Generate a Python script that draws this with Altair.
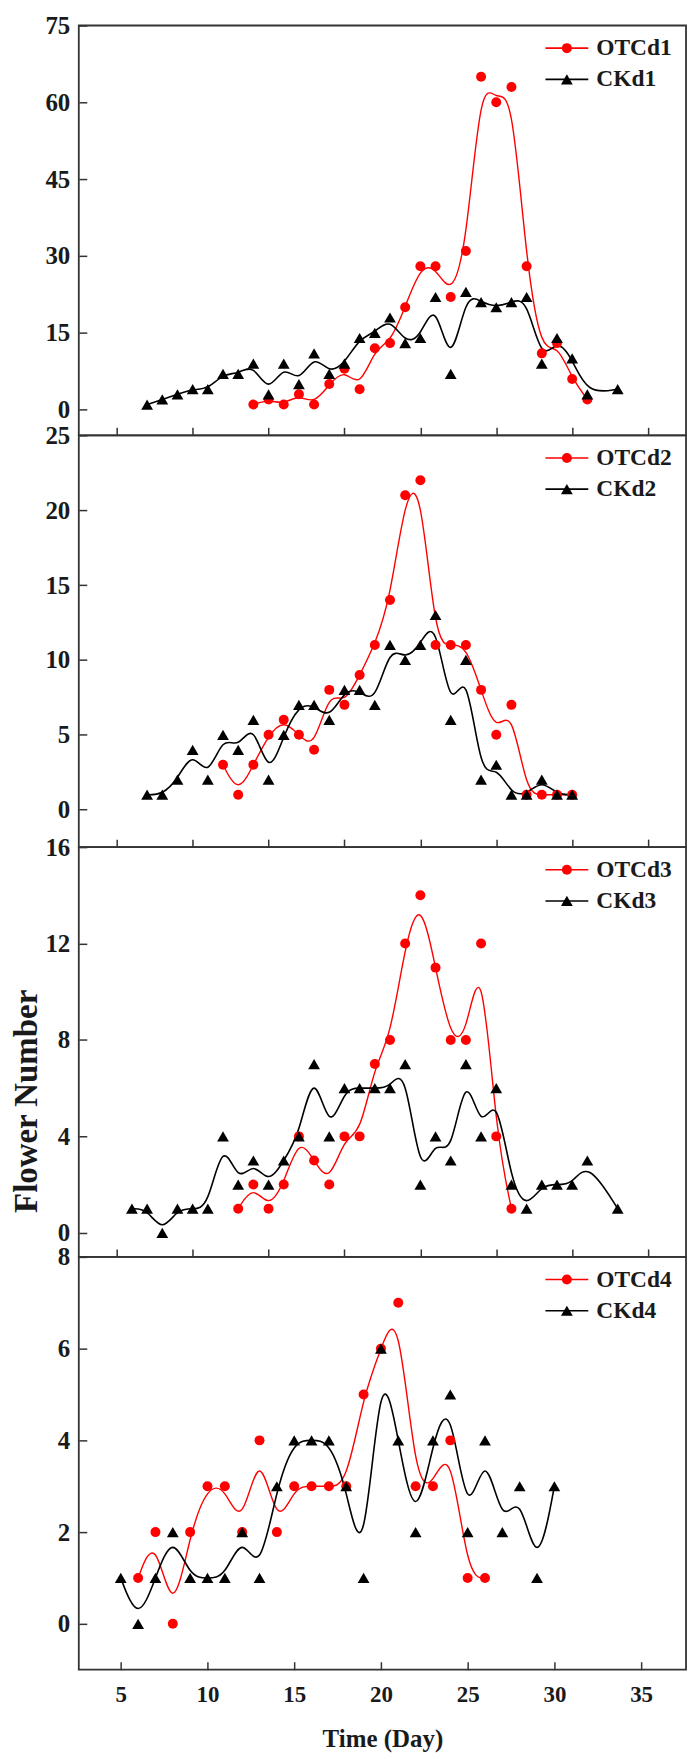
import altair as alt
import pandas as pd

FONT = "Liberation Serif"
RED = "#ff0000"
BLACK = "#000000"
INK = "#1a1a1a"

# ---------------- data ----------------
# Panel 1 (upper-panel day scale)
otc1_days = [14, 15, 16, 17, 18, 19, 20, 21, 22, 23, 24, 25, 26, 27, 28, 29, 30, 31, 32, 33, 34, 35, 36]
otc1_vals = [1, 2, 1, 3, 1, 5, 8, 4, 12, 13, 20, 28, 28, 22, 31, 65, 60, 63, 28, 11, 13, 6, 2]
ck1_days = [7, 8, 9, 10, 11, 12, 13, 14, 15, 16, 17, 18, 19, 20, 21, 22, 23, 24, 25, 26, 27, 28, 29, 30, 31, 32, 33, 34, 35, 36, 38]
ck1_vals = [1, 2, 3, 4, 4, 7, 7, 9, 3, 9, 5, 11, 7, 9, 14, 15, 18, 13, 14, 22, 7, 23, 21, 20, 21, 22, 9, 14, 10, 3, 4]

# Panel 2
otc2_days = [12, 13, 14, 15, 16, 17, 18, 19, 20, 21, 22, 23, 24, 25, 26, 27, 28, 29, 30, 31, 32, 33, 34, 35]
otc2_vals = [3, 1, 3, 5, 6, 5, 4, 8, 7, 9, 11, 14, 21, 22, 11, 11, 11, 8, 5, 7, 1, 1, 1, 1]
ck2_days = [7, 8, 9, 10, 11, 12, 13, 14, 15, 16, 17, 18, 19, 20, 21, 22, 23, 24, 25, 26, 27, 28, 29, 30, 31, 32, 33, 34, 35]
ck2_vals = [1, 1, 2, 4, 2, 5, 4, 6, 2, 5, 7, 7, 6, 8, 8, 7, 11, 10, 11, 13, 6, 10, 2, 3, 1, 1, 2, 1, 1]

# Panel 3
otc3_days = [13, 14, 15, 16, 17, 18, 19, 20, 21, 22, 23, 24, 25, 26, 27, 28, 29, 30, 31]
otc3_vals = [1, 2, 1, 2, 4, 3, 2, 4, 4, 7, 8, 12, 14, 11, 8, 8, 12, 4, 1]
ck3_days = [6, 7, 8, 9, 10, 11, 12, 13, 14, 15, 16, 17, 18, 19, 20, 21, 22, 23, 24, 25, 26, 27, 28, 29, 30, 31, 32, 33, 34, 35, 36, 38]
ck3_vals = [1, 1, 0, 1, 1, 1, 4, 2, 3, 2, 3, 4, 7, 4, 6, 6, 6, 6, 7, 2, 4, 3, 7, 4, 6, 2, 1, 2, 2, 2, 3, 1]

# Panel 4 (bottom, labelled day scale)
otc4_days = [6, 7, 8, 9, 10, 11, 12, 13, 14, 15, 16, 17, 18, 19, 20, 21, 22, 23, 24, 25, 26]
otc4_vals = [1, 2, 0, 2, 3, 3, 2, 4, 2, 3, 3, 3, 3, 5, 6, 7, 3, 3, 4, 1, 1]
ck4_days = [5, 6, 7, 8, 9, 10, 11, 12, 13, 14, 15, 16, 17, 18, 19, 20, 21, 22, 23, 24, 25, 26, 27, 28, 29, 30]
ck4_vals = [1, 0, 1, 2, 1, 1, 1, 2, 1, 3, 4, 4, 4, 3, 1, 6, 4, 2, 4, 5, 2, 4, 2, 3, 1, 3]

upper_x_ticks = [5, 10, 15, 20, 25, 30, 35, 40]
bottom_x_ticks = [5, 10, 15, 20, 25, 30, 35]
y1_ticks = [0, 15, 30, 45, 60, 75]
y2_ticks = [0, 5, 10, 15, 20, 25]
y3_ticks = [0, 4, 8, 12, 16]
y4_ticks = [0, 2, 4, 6, 8]

W = 609
CIRCLE_SIZE = 100
TRI_SIZE = 140


def panel(od, ov, cd, cv, oname, cname, xdom, xticks, ydom, yticks, height,
          bottom=False, ytitle=False):
    otc = pd.DataFrame({"day": od, "value": ov})
    ck = pd.DataFrame({"day": cd, "value": cv})
    one = pd.DataFrame({"k": [0]})

    xkw = dict(values=xticks, labels=bottom, ticks=True, tickSize=8, offset=-8,
               domain=False, grid=False, tickColor="#333", tickWidth=1.5,
               labelFlush=False)
    if bottom:
        xkw.update(labelPadding=14, labelFontSize=23, labelFont=FONT,
                   labelFontWeight="bold", labelColor=INK,
                   title="Time (Day)", titleFont=FONT, titleFontSize=25,
                   titleFontWeight="bold", titleColor=INK, titlePadding=20)
    else:
        xkw.update(title="")
    x = alt.X("day:Q", scale=alt.Scale(domain=xdom, nice=False, zero=False),
              axis=alt.Axis(**xkw))
    y = alt.Y("value:Q", scale=alt.Scale(domain=ydom, nice=False, zero=False),
              axis=alt.Axis(values=yticks, tickSize=8, offset=-8, domain=False,
                            grid=False, tickColor="#333", tickWidth=1.5,
                            labelPadding=9, labelFont=FONT, labelFontSize=25,
                            labelFontWeight="bold", labelColor=INK, title=""))

    red_line = alt.Chart(otc).mark_line(interpolate="basis", color=RED,
                                        strokeWidth=1.4).encode(x=x, y=y)
    black_line = alt.Chart(ck).mark_line(interpolate="basis", color=BLACK,
                                         strokeWidth=1.6).encode(x=x, y=y)
    red_pts = alt.Chart(otc).mark_point(shape="circle", filled=True, color=RED,
                                        size=CIRCLE_SIZE, opacity=1).encode(x=x, y=y)
    black_pts = alt.Chart(ck).mark_point(shape="triangle-up", filled=True,
                                         color=BLACK, size=TRI_SIZE,
                                         opacity=1).encode(x=x, y=y)
    layers = [red_line, black_line, red_pts, black_pts]

    for ly, col, shp, sz, name in [(22.7, RED, "circle", CIRCLE_SIZE, oname),
                                   (54, BLACK, "triangle-up", TRI_SIZE, cname)]:
        layers.append(alt.Chart(one).mark_rule(color=col, strokeWidth=1.6).encode(
            x=alt.value(468), x2=alt.value(511), y=alt.value(ly)))
        layers.append(alt.Chart(one).mark_point(shape=shp, filled=True, color=col,
                                                size=sz, opacity=1).encode(
            x=alt.value(489.5), y=alt.value(ly)))
        layers.append(alt.Chart(one).mark_text(align="left", baseline="middle",
                                               font=FONT, fontSize=23.5,
                                               fontWeight="bold", color=INK).encode(
            x=alt.value(519), y=alt.value(ly), text=alt.value(name)))

    if ytitle:
        layers.append(alt.Chart(one).mark_text(angle=270, align="center",
                                               baseline="middle", font=FONT,
                                               fontSize=33, fontWeight="bold",
                                               color=INK).encode(
            x=alt.value(-52), y=alt.value(255), text=alt.value("Flower Number")))

    return alt.layer(*layers).properties(width=W, height=height)


up = [2.5, 42.5]
p1 = panel(otc1_days, otc1_vals, ck1_days, ck1_vals, "OTCd1", "CKd1",
           up, upper_x_ticks, [-5, 75], y1_ticks, 411)
p2 = panel(otc2_days, otc2_vals, ck2_days, ck2_vals, "OTCd2", "CKd2",
           up, upper_x_ticks, [-2.5, 25], y2_ticks, 413)
p3 = panel(otc3_days, otc3_vals, ck3_days, ck3_vals, "OTCd3", "CKd3",
           up, upper_x_ticks, [-1, 16], y3_ticks, 411, ytitle=True)
p4 = panel(otc4_days, otc4_vals, ck4_days, ck4_vals, "OTCd4", "CKd4",
           [2.58, 37.59], bottom_x_ticks, [-1, 8], y4_ticks, 414, bottom=True)

chart = alt.vconcat(p1, p2, p3, p4, spacing=0, bounds="flush").resolve_scale(
    x="independent", y="independent"
).properties(
    padding={"left": 2, "top": 2, "right": 5, "bottom": 5},
    background="white",
).configure_view(stroke="#333", strokeWidth=1.8)

chart.save("out.html", embed_options={"renderer": "svg", "actions": False})
